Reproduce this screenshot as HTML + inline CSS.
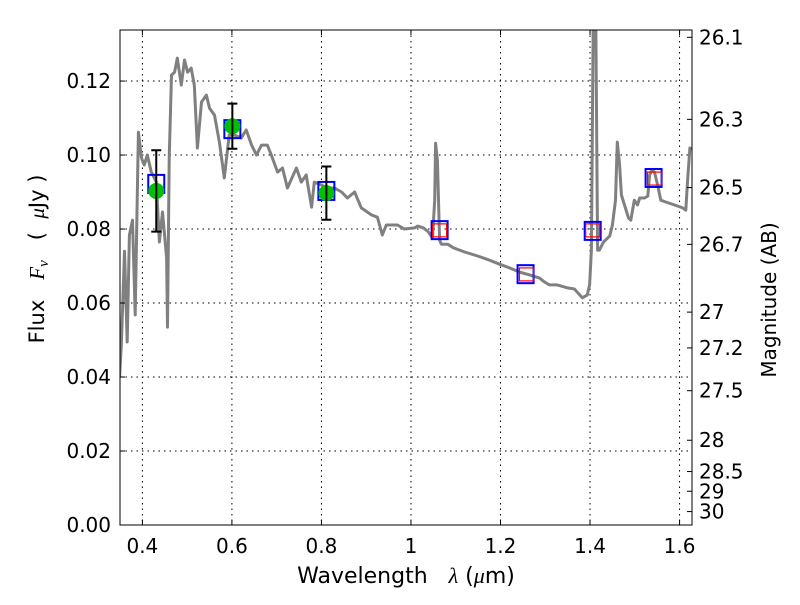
<!DOCTYPE html>
<html><head><meta charset="utf-8"><style>
html,body{margin:0;padding:0;background:#fff;}
svg text{font-family:"DejaVu Sans","Liberation Sans",sans-serif;white-space:pre;}
</style></head><body>
<svg id="chart" width="800" height="600" xmlns="http://www.w3.org/2000/svg">
<defs><clipPath id="clip"><rect x="120" y="30" width="572" height="495"/></clipPath></defs>
<g id="grid"></g>
<g id="spec" clip-path="url(#clip)"></g>
<g id="marks"></g>
<rect x="120" y="30" width="572" height="495" fill="none" stroke="#000" stroke-width="1"/>
<g id="axes"></g>
<text x="406" y="583" font-size="22" text-anchor="middle">Wavelength   <tspan font-style="italic" font-family="Liberation Serif,serif">λ</tspan> (<tspan font-style="italic" font-family="Liberation Serif,serif">μ</tspan>m)</text>
<text transform="translate(44,259) rotate(-90)" font-size="21" text-anchor="middle">Flux   <tspan font-style="italic" font-family="Liberation Serif,serif">F</tspan><tspan font-style="italic" font-family="Liberation Serif,serif" font-size="15" dy="4">ν</tspan><tspan dy="-4">   (  </tspan><tspan font-style="italic" font-family="Liberation Serif,serif">μ</tspan>Jy )</text>
<text transform="translate(776,300) rotate(-90)" font-size="20" text-anchor="middle">Magnitude (AB)</text>
</svg>
<script>
const specLam=[0.349,0.353,0.360,0.366,0.371,0.378,0.384,0.391,0.398,0.404,0.411,0.420,0.431,0.438,0.445,0.454,0.456,0.460,0.465,0.472,0.478,0.487,0.494,0.501,0.509,0.516,0.523,0.532,0.543,0.550,0.561,0.572,0.583,0.594,0.606,0.621,0.632,0.644,0.655,0.666,0.679,0.688,0.702,0.713,0.724,0.744,0.755,0.766,0.778,0.784,0.800,0.813,0.829,0.845,0.858,0.874,0.889,0.912,0.925,0.936,0.945,0.970,0.985,1.008,1.015,1.028,1.039,1.048,1.053,1.055,1.059,1.064,1.068,1.082,1.095,1.120,1.149,1.175,1.198,1.220,1.242,1.265,1.287,1.298,1.309,1.327,1.350,1.365,1.377,1.383,1.394,1.399,1.403,1.408,1.412,1.417,1.421,1.430,1.444,1.450,1.457,1.461,1.466,1.470,1.477,1.486,1.491,1.499,1.506,1.511,1.522,1.529,1.533,1.538,1.544,1.551,1.558,1.569,1.589,1.607,1.614,1.618,1.623,1.627];
const specFlux=[0.0400,0.0486,0.0740,0.0495,0.0784,0.0824,0.0568,0.1062,0.0992,0.0973,0.1000,0.0954,0.0927,0.0765,0.0846,0.0722,0.0535,0.0992,0.1216,0.1224,0.1262,0.1189,0.1257,0.1224,0.1235,0.1189,0.1019,0.1143,0.1162,0.1127,0.1108,0.1035,0.0938,0.1054,0.1054,0.1046,0.1068,0.1027,0.1000,0.1027,0.1027,0.1000,0.0954,0.0965,0.0911,0.0965,0.0927,0.0946,0.0859,0.0927,0.0919,0.0911,0.0911,0.0900,0.0884,0.0900,0.0857,0.0838,0.0832,0.0784,0.0811,0.0811,0.0800,0.0803,0.0808,0.0803,0.0792,0.0776,0.0878,0.1032,0.0986,0.0770,0.0759,0.0759,0.0749,0.0738,0.0727,0.0716,0.0705,0.0695,0.0684,0.0676,0.0668,0.0657,0.0649,0.0649,0.0641,0.0638,0.0622,0.0614,0.0622,0.0649,0.0743,0.1500,0.1500,0.0743,0.0743,0.0765,0.0781,0.0811,0.0878,0.1035,0.0973,0.0892,0.0865,0.0830,0.0824,0.0878,0.0865,0.0884,0.0884,0.0889,0.0946,0.0959,0.0954,0.0919,0.0878,0.0873,0.0865,0.0857,0.0851,0.0932,0.1019,0.1014];
const bandLam=[0.431,0.601,0.811,1.064,1.256,1.406,1.542];
const bandFlux=[0.0922,0.1070,0.0903,0.0797,0.0678,0.0795,0.0938];
const modelLam=[1.064,1.258,1.406,1.544];
const modelFlux=[0.0795,0.0676,0.0795,0.0935];
const obsLam=[0.431,0.601,0.811];
const obsFlux=[0.0903,0.1078,0.0897];
const obsErr=[0.0110,0.0061,0.0072];
const xTicks=[0.4,0.6,0.8,1.0,1.2,1.4,1.6];
const xTickLabels=["0.4","0.6","0.8","1","1.2","1.4","1.6"];
const yTicks=[0,0.02,0.04,0.06,0.08,0.10,0.12];
const yTickLabels=["0.00","0.02","0.04","0.06","0.08","0.10","0.12"];
const magTicks=[26.1,26.3,26.5,26.7,27,27.2,27.5,28,28.5,29,30];
const magLabels=["26.1","26.3","26.5","26.7","27","27.2","27.5","28","28.5","29","30"];

const X0=120,X1=692,Y0=525,Y1=30,L0=0.35,L1=1.6278,F0=0,F1=0.1338;
const sx=v=>X0+(v-L0)/(L1-L0)*(X1-X0);
const sy=v=>Y0-(v-F0)/(F1-F0)*(Y0-Y1);
const NS="http://www.w3.org/2000/svg";
function mk(parent,tag,attrs){const e=document.createElementNS(NS,tag);for(const k in attrs)e.setAttribute(k,attrs[k]);parent.appendChild(e);return e;}
const grid=document.getElementById('grid'),axes=document.getElementById('axes'),spec=document.getElementById('spec'),marks=document.getElementById('marks');

xTicks.forEach((t,i)=>{const x=sx(t);
 const g=mk(grid,'line',{x1:x,x2:x,y1:Y1,y2:Y0,stroke:'#000','stroke-dasharray':'1.5,4','stroke-width':1});
 
 
 const a=mk(axes,'line',{x1:x,x2:x,y1:Y0,y2:Y0-5,stroke:'#000'});
 
 
 const b=mk(axes,'line',{x1:x,x2:x,y1:Y1,y2:Y1+5,stroke:'#000'});
 
 
 const tx=mk(axes,'text',{x:x,y:Y0+28,'font-size':20,'text-anchor':'middle'});tx.textContent=xTickLabels[i];
 
 
});
yTicks.forEach((t,i)=>{const y=sy(t);
 const g=mk(grid,'line',{x1:X0,x2:X1,y1:y,y2:y,stroke:'#000','stroke-dasharray':'1.5,4','stroke-width':1});
 
 
 const a=mk(axes,'line',{x1:X0,x2:X0+5,y1:y,y2:y,stroke:'#000'});
 
 
 const tx=mk(axes,'text',{x:X0-9,y:y+7,'font-size':20,'text-anchor':'end'});tx.textContent=yTickLabels[i];
 
 
});
magTicks.forEach((m,i)=>{const y=sy(Math.pow(10,(23.9-m)/2.5));
 const a=mk(axes,'line',{x1:X1-5,x2:X1,y1:y,y2:y,stroke:'#000'});
 
 
 const tx=mk(axes,'text',{x:X1+7,y:y+7,'font-size':20});tx.textContent=magLabels[i];
 
 
});
const d=specLam.map((l,i)=>(i?'L':'M')+sx(l).toFixed(1)+','+sy(specFlux[i]).toFixed(1)).join(' ');
const p=mk(spec,'path',{d:d,fill:'none',stroke:'#808080','stroke-width':3,'stroke-linejoin':'round'});


bandLam.forEach((l,i)=>{const x=sx(l),y=sy(bandFlux[i]);
 const r=mk(marks,'rect',{x:x-8,y:y-9,width:16,height:18,fill:'none',stroke:'#0000ff','stroke-width':2});
 
 
});
modelLam.forEach((l,i)=>{const x=sx(l),y=sy(modelFlux[i]);
 const r=mk(marks,'rect',{x:x-7,y:y-7,width:14,height:13,fill:'none',stroke:'#ff0000','stroke-width':1.2});
 
 
});
obsLam.forEach((l,i)=>{const x=sx(l),y=sy(obsFlux[i]),yl=sy(obsFlux[i]-obsErr[i]),yh=sy(obsFlux[i]+obsErr[i]);
 const c=mk(marks,'circle',{cx:x,cy:y,r:8,fill:'#00c000'});
 
 
 const e=mk(marks,'path',{d:`M${x},${yl}V${yh}M${x-5},${yl}H${x+5}M${x-5},${yh}H${x+5}`,stroke:'#000','stroke-width':2,fill:'none'});
 
 
});
</script>
</body></html>
